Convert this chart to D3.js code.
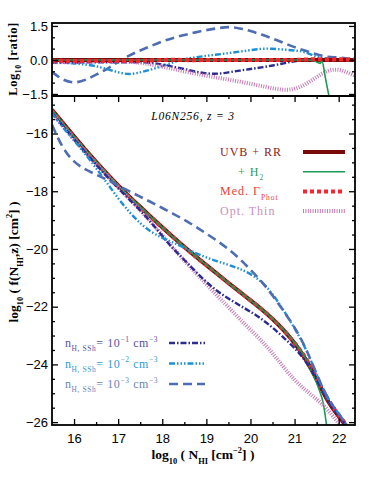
<!DOCTYPE html>
<html>
<head>
<meta charset="utf-8">
<script src="https://cdn.jsdelivr.net/npm/d3@7"></script>
<style>
body { margin: 0; background: #fff; }
svg text { font-family: "Liberation Serif", "DejaVu Serif", serif; }
.tick text { font-family: "Liberation Sans", Arial, sans-serif; font-size: 13px; fill: #000; }
</style>
</head>
<body>
<div class="chart"></div>
<script>
const width = 374;
const height = 485;

// log10 N_HI grid used by all main-panel curves
const logN = [15.5, 15.75, 16.0, 16.25, 16.5, 16.75, 17.0, 17.25, 17.5, 17.75, 18.0, 18.25, 18.5, 18.75,
              19.0, 19.25, 19.5, 19.75, 20.0, 20.25, 20.5, 20.75, 21.0, 21.25, 21.5, 21.75, 22.0, 22.2];

// log10 f(N_HI, z)
const fRef  = [-15.18, -15.64, -16.1, -16.55, -16.98, -17.4, -17.8, -18.18, -18.54, -18.9, -19.25, -19.6, -19.93, -20.25,
               -20.56, -20.87, -21.18, -21.48, -21.78, -22.08, -22.42, -22.8, -23.25, -23.8, -24.5, -25.3, -25.8, -26.2];
const fMed  = [-15.2, -15.67, -16.13, -16.58, -17.01, -17.43, -17.83, -18.2, -18.57, -18.92, -19.25, -19.6, -19.93, -20.27,
               -20.56, -20.87, -21.18, -21.48, -21.78, -22.08, -22.42, -22.8, -23.25, -23.75, -24.45, -25.25, -25.75, -26.15];
const fOpt  = [-15.28, -15.75, -16.2, -16.64, -17.05, -17.46, -17.86, -18.26, -18.66, -19.08, -19.52, -19.98, -20.4, -20.82,
               -21.22, -21.62, -22.02, -22.42, -22.8, -23.18, -23.6, -24.1, -24.55, -24.9, -25.2, -25.55, -26.05, -26.35];
const fN1   = [-15.28, -15.75, -16.2, -16.65, -17.08, -17.5, -17.9, -18.28, -18.66, -19.08, -19.55, -20.0, -20.38, -20.78,
               -21.15, -21.47, -21.72, -21.95, -22.17, -22.42, -22.72, -23.07, -23.42, -23.87, -24.5, -25.3, -25.75, -26.2];
const fN2   = [-15.3, -15.8, -16.24, -16.7, -17.2, -17.72, -18.25, -18.72, -19.12, -19.42, -19.62, -19.78, -19.96, -20.14,
               -20.3, -20.43, -20.55, -20.68, -20.86, -21.12, -21.55, -22.12, -22.75, -23.42, -24.35, -25.2, -25.7, -26.15];
const fN3   = [-15.7, -16.55, -17.0, -17.25, -17.42, -17.6, -17.8, -18.0, -18.19, -18.38, -18.58, -18.78, -18.99, -19.22,
               -19.47, -19.72, -20.0, -20.33, -20.72, -21.12, -21.6, -22.15, -22.7, -23.4, -24.35, -25.2, -25.7, -26.15];
// the H2 run drops away from the reference above 21.4
const logNH2 = [15.5, 16.0, 16.5, 17.0, 17.5, 18.0, 18.5, 19.0, 19.5, 20.0, 20.5, 21.0, 21.25, 21.4, 21.55, 21.65, 21.75];
const fH2    = [-15.18, -16.1, -16.98, -17.8, -18.54, -19.25, -19.93, -20.56, -21.18, -21.78, -22.42, -23.25, -23.8, -24.3, -24.85, -25.35, -26.4];

// log10 ratio (model / UVB+RR)
const logNr = [15.5, 15.75, 16.0, 16.25, 16.5, 16.75, 17.0, 17.25, 17.5, 17.75, 18.0, 18.25, 18.5, 18.75,
               19.0, 19.25, 19.5, 19.75, 20.0, 20.25, 20.5, 20.75, 21.0, 21.25, 21.5, 21.75, 22.0, 22.2, 22.37];
const rRef = [0, 0, 0, 0, 0, 0, 0, 0, 0, 0, 0, 0, 0, 0, 0, 0, 0, 0, 0, 0, 0, 0, 0, 0, 0, 0, 0, 0, 0];
const rMed = [-0.03, -0.04, -0.05, -0.04, -0.03, -0.05, -0.04, -0.03, -0.04, -0.02, 0, 0.01, 0, -0.02, 0,
              0, 0, 0, 0, 0, 0, 0, 0, 0.02, 0.04, 0.02, 0.03, 0.02, 0.02];
const rOpt = [-0.1, -0.1, -0.1, -0.08, -0.06, -0.05, -0.05, -0.08, -0.12, -0.2, -0.3, -0.4, -0.5, -0.6,
              -0.7, -0.78, -0.87, -0.95, -1.05, -1.15, -1.25, -1.33, -1.3, -1.08, -0.75, -0.45, -0.4, -0.55, -0.7];
const rN1  = [-0.12, -0.12, -0.12, -0.11, -0.1, -0.1, -0.1, -0.1, -0.1, -0.12, -0.2, -0.3, -0.4, -0.52,
              -0.6, -0.62, -0.55, -0.47, -0.4, -0.33, -0.25, -0.15, -0.05, 0, 0.02, 0.02, 0.02, 0.02, 0.02];
const rN2  = [-0.1, -0.12, -0.15, -0.2, -0.27, -0.4, -0.55, -0.65, -0.55, -0.42, -0.28, -0.1, 0.05, 0.12,
              0.18, 0.24, 0.3, 0.37, 0.43, 0.5, 0.5, 0.46, 0.42, 0.36, 0.12, 0.05, 0.02, 0, 0];
const rN3  = [-0.53, -0.9, -1.03, -0.9, -0.65, -0.4, -0.08, 0.2, 0.42, 0.62, 0.82, 0.98, 1.1, 1.22,
              1.32, 1.4, 1.47, 1.4, 1.28, 1.12, 0.95, 0.75, 0.56, 0.4, 0.25, 0.12, 0.12, 0.05, 0.05];
const logNrH2 = [15.5, 21.3, 21.45, 21.58, 21.62, 21.7, 21.8];
const rH2     = [0, 0, -0.05, -0.15, -0.05, -0.8, -1.8];

const xTicks = [16, 17, 18, 19, 20, 21, 22];
const yTicks = [-26, -24, -22, -20, -18, -16];
const rTicks = [-1.5, 0, 1.5];

let svg = d3.select(".chart")
    .append("svg")
    .attr("width", width)
    .attr("height", height);

svg.append("rect").attr("width", width).attr("height", height).attr("fill", "#fff");

let x = d3.scaleLinear().domain([15.5, 22.37]).range([52, 355]);
let y = d3.scaleLinear().domain([-26.1, -14.7]).range([425, 96]);
let yr = d3.scaleLinear().domain([-1.59, 1.63]).range([96, 23]);

svg.append("clipPath").attr("id", "clipMain")
    .append("rect").attr("x", 52).attr("y", 96).attr("width", 303).attr("height", 329);
svg.append("clipPath").attr("id", "clipRatio")
    .append("rect").attr("x", 52).attr("y", 23).attr("width", 303).attr("height", 73);

// line styles
const styles = {
    ref: { color: "#7a0a0a", w: 4, dash: null },
    h2:  { color: "#1a9a55", w: 1.6, dash: null },
    med: { color: "#f52630", w: 4, dash: "4,3" },
    opt: { color: "#c77ab6", w: 4, dash: "1,1.4" },
    n1:  { color: "#2c2c90", w: 2.4, dash: "6,2,1.5,2" },
    n2:  { color: "#1e8fd5", w: 2.4, dash: "6,2,1.5,2,1.5,2,1.5,2" },
    n3:  { color: "#4e6db2", w: 2.6, dash: "9,5" }
};

function drawLine(g, xs, ys, ysc, st, curve) {
    let line = d3.line()
        .x((d, i) => x(xs[i]))
        .y(d => ysc(d))
        .curve(curve || d3.curveBasis);
    g.append("path")
        .attr("d", line(ys))
        .attr("fill", "none")
        .attr("stroke", st.color)
        .attr("stroke-width", st.w)
        .attr("stroke-dasharray", st.dash);
}

// ratio panel
let gr = svg.append("g").attr("clip-path", "url(#clipRatio)");
drawLine(gr, logNr, rN3, yr, styles.n3);
drawLine(gr, logNr, rN2, yr, styles.n2);
drawLine(gr, logNr, rN1, yr, styles.n1);
drawLine(gr, logNr, rOpt, yr, styles.opt);
drawLine(gr, logNr, rRef, yr, styles.ref);
drawLine(gr, logNrH2, rH2, yr, styles.h2, d3.curveMonotoneX);
drawLine(gr, logNr, rMed, yr, styles.med);

// main panel
let gm = svg.append("g").attr("clip-path", "url(#clipMain)");
drawLine(gm, logN, fRef, y, styles.ref);
drawLine(gm, logN, fMed, y, styles.med);
drawLine(gm, logNH2, fH2, y, styles.h2, d3.curveMonotoneX);
drawLine(gm, logN, fOpt, y, styles.opt);
drawLine(gm, logN, fN1, y, styles.n1);
drawLine(gm, logN, fN2, y, styles.n2);
drawLine(gm, logN, fN3, y, styles.n3);

// axes: inward ticks on all sides
function minorOf(lo, hi, step, majors) {
    let out = [];
    for (let v = lo; v <= hi + 1e-9; v += step) {
        let r = Math.round(v * 100) / 100;
        if (!majors.includes(r)) out.push(r);
    }
    return out;
}
const xMinor = minorOf(15.5, 22.0, 0.5, xTicks).filter(v => v > 15.6);
const yMinor = minorOf(-26, -15, 0.5, yTicks);
const rMinor = [-1.0, -0.5, 0.5, 1.0];

function addAxis(axis, tx, ty) {
    let g = svg.append("g").attr("transform", `translate(${tx},${ty})`).call(axis);
    g.select(".domain").remove();
    g.selectAll(".tick line").attr("stroke", "#000").attr("stroke-width", 1.3);
    return g;
}

addAxis(d3.axisBottom(x).tickValues(xTicks).tickSize(-6).tickPadding(9).tickFormat(d3.format("d")), 0, 425);
addAxis(d3.axisBottom(x).tickValues(xMinor).tickSize(-3).tickFormat(""), 0, 425);
addAxis(d3.axisTop(x).tickValues(xTicks).tickSize(-6).tickFormat(""), 0, 96);
addAxis(d3.axisTop(x).tickValues(xMinor).tickSize(-3).tickFormat(""), 0, 96);

addAxis(d3.axisLeft(y).tickValues(yTicks).tickSize(-6).tickPadding(4).tickFormat(d3.format("d")), 52, 0);
addAxis(d3.axisLeft(y).tickValues(yMinor).tickSize(-3).tickFormat(""), 52, 0);
addAxis(d3.axisRight(y).tickValues(yTicks).tickSize(-6).tickFormat(""), 355, 0);
addAxis(d3.axisRight(y).tickValues(yMinor).tickSize(-3).tickFormat(""), 355, 0);

addAxis(d3.axisLeft(yr).tickValues(rTicks).tickSize(-6).tickPadding(4).tickFormat(d3.format(".1f")), 52, 0);
addAxis(d3.axisLeft(yr).tickValues(rMinor).tickSize(-3).tickFormat(""), 52, 0);
addAxis(d3.axisRight(yr).tickValues(rTicks).tickSize(-6).tickFormat(""), 355, 0);
addAxis(d3.axisRight(yr).tickValues(rMinor).tickSize(-3).tickFormat(""), 355, 0);

// panel frames
svg.append("rect").attr("x", 52).attr("y", 23).attr("width", 303).attr("height", 73)
    .attr("fill", "none").attr("stroke", "#000").attr("stroke-width", 1.8);
svg.append("rect").attr("x", 52).attr("y", 96).attr("width", 303).attr("height", 329)
    .attr("fill", "none").attr("stroke", "#000").attr("stroke-width", 1.8);

// text with sub/superscripts: parts = [[text, kind]]
function rich(sel, parts, size) {
    let shift = 0;
    parts.forEach(([t, k]) => {
        let target = k === "sub" ? 0.35 * size : k === "sup" ? -0.42 * size : 0;
        sel.append("tspan")
            .attr("dy", target - shift)
            .attr("font-size", k ? size * 0.62 : size)
            .text(t);
        shift = target;
    });
    return sel;
}

// axis titles
rich(svg.append("text").attr("transform", "translate(18,262) rotate(-90)")
    .attr("text-anchor", "middle").attr("font-weight", "bold"),
    [["log", ""], ["10", "sub"], [" ( f(N", ""], ["HI", "sub"], [",z) [cm", ""], ["2", "sup"], ["] )", ""]], 13.5);

rich(svg.append("text").attr("transform", "translate(17,59) rotate(-90)")
    .attr("text-anchor", "middle").attr("font-weight", "bold").attr("letter-spacing", 0.6),
    [["Log", ""], ["10", "sub"], [" [ratio]", ""]], 12.5);

rich(svg.append("text").attr("x", 203).attr("y", 459)
    .attr("text-anchor", "middle").attr("font-weight", "bold"),
    [["log", ""], ["10", "sub"], [" ( N", ""], ["HI", "sub"], [" [cm", ""], ["−2", "sup"], ["] )", ""]], 13.5);

svg.append("text").attr("x", 193).attr("y", 120).attr("text-anchor", "middle")
    .attr("font-style", "italic").attr("font-size", 11.5).attr("letter-spacing", 0.8)
    .text("L06N256, z = 3");

// right legend
const legendRight = [
    { key: "ref", parts: [["UVB + RR", ""]], tx: 220, tc: "#8b1a1a" },
    { key: "h2",  parts: [["+ H", ""], ["2", "sub"]], tx: 238, tc: "#2a9a5c" },
    { key: "med", parts: [["Med. Γ", ""], ["Phot", "sub"]], tx: 220, tc: "#f23a3a" },
    { key: "opt", parts: [["Opt. Thin", ""]], tx: 220, tc: "#c98fc0" }
];
legendRight.forEach((d, i) => {
    let ly = 152 + i * 19.7;
    rich(svg.append("text").attr("x", d.tx).attr("y", ly + 4).attr("fill", d.tc).attr("letter-spacing", 1), d.parts, 12);
    let st = styles[d.key];
    svg.append("line").attr("x1", 303).attr("x2", 345).attr("y1", ly).attr("y2", ly)
        .attr("stroke", st.color).attr("stroke-width", st.w).attr("stroke-dasharray", st.dash);
});

// left legend
const legendLeft = [
    { key: "n1", exp: "−1", tc: "#5454a6" },
    { key: "n2", exp: "−2", tc: "#2d9ad8" },
    { key: "n3", exp: "−3", tc: "#6a84bc" }
];
legendLeft.forEach((d, i) => {
    let ly = 343 + i * 20.5;
    rich(svg.append("text").attr("x", 65).attr("y", ly + 4).attr("fill", d.tc).attr("letter-spacing", 0.6),
        [["n", ""], ["H, SSh", "sub"], ["= 10", ""], [d.exp, "sup"], [" cm", ""], ["−3", "sup"]], 12);
    let st = styles[d.key];
    svg.append("line").attr("x1", 169).attr("x2", 205).attr("y1", ly).attr("y2", ly)
        .attr("stroke", st.color).attr("stroke-width", st.w).attr("stroke-dasharray", st.dash);
});
</script>
</body>
</html>
